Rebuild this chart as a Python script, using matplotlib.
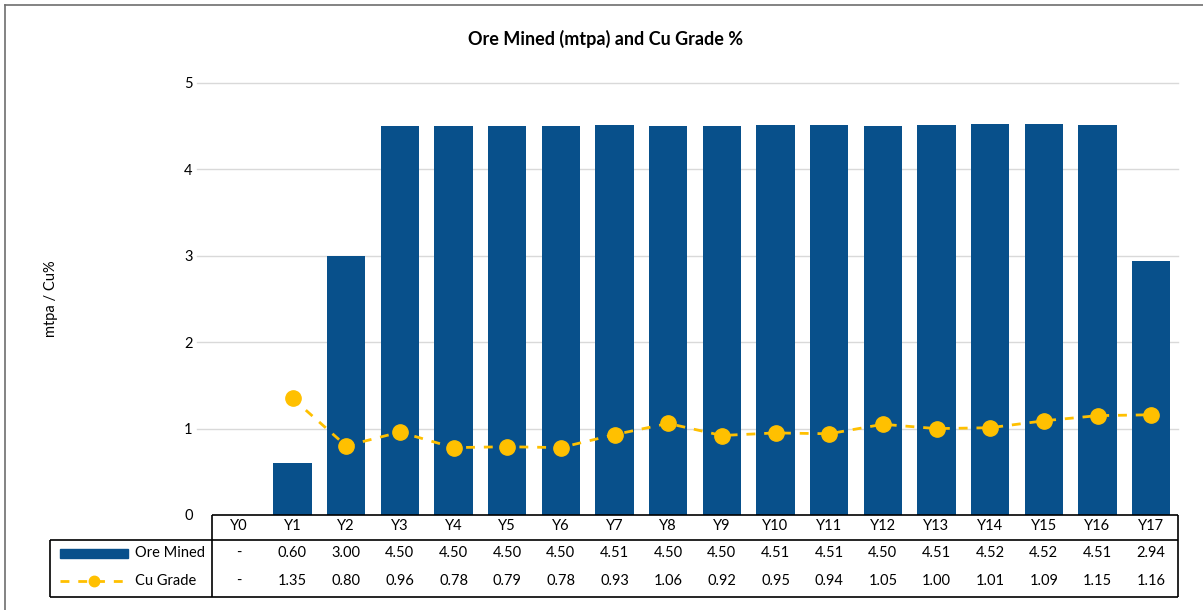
import matplotlib
matplotlib.use("Agg")
import matplotlib.pyplot as plt
import numpy as np
from matplotlib.lines import Line2D
from matplotlib.patches import Rectangle

# ---- data -----------------------------------------------------------------
years = ["Y0", "Y1", "Y2", "Y3", "Y4", "Y5", "Y6", "Y7", "Y8", "Y9",
         "Y10", "Y11", "Y12", "Y13", "Y14", "Y15", "Y16", "Y17"]
ore_mined = [np.nan, 0.60, 3.00, 4.50, 4.50, 4.50, 4.50, 4.51, 4.50, 4.50,
             4.51, 4.51, 4.50, 4.51, 4.52, 4.52, 4.51, 2.94]
cu_grade = [np.nan, 1.35, 0.80, 0.96, 0.78, 0.79, 0.78, 0.93, 1.06, 0.92,
            0.95, 0.94, 1.05, 1.00, 1.01, 1.09, 1.15, 1.16]
y_ticks = [0, 1, 2, 3, 4, 5]

series_names = ["Ore Mined", "Cu Grade"]
title = "Ore Mined (mtpa) and Cu Grade %"
y_label = "mtpa / Cu%"

# ---- style ----------------------------------------------------------------
BLUE = "#08508b"
GOLD = "#ffc000"
GRID = "#d9d9d9"
FRAME = "#6e6e6e"
FS = 10.5
plt.rcParams["font.family"] = ["Lato", "DejaVu Sans"]

W, H = 1203, 610
fig = plt.figure(figsize=(W / 100, H / 100), dpi=100)


def box(x0, y0, x1, y1):
    """Figure-fraction rectangle from pixel corners (top-left origin)."""
    return [x0 / W, 1 - y1 / H, (x1 - x0) / W, (y1 - y0) / H]


PL, PT, PR, PB = 212, 83, 1178, 515
ax = fig.add_axes(box(PL, PT, PR, PB))
x = np.arange(len(years))

ax.bar(x, ore_mined, width=0.71, color=BLUE, zorder=2)
ax.plot(x, cu_grade, color=GOLD, lw=2, dashes=(3.2, 3.2), marker="o",
        ms=11, zorder=3)

ax.set_xlim(-0.5, len(years) - 0.5)
ax.set_ylim(y_ticks[0], y_ticks[-1])
ax.set_yticks(y_ticks)
ax.set_xticks([])
for y in y_ticks[1:]:
    ax.axhline(y, xmin=-15 / (PR - PL), xmax=1, color=GRID, lw=1, zorder=1,
               clip_on=False)
for s in ax.spines.values():
    s.set_visible(False)
ax.tick_params(axis="y", length=0, pad=14, labelsize=FS)
ax.set_ylabel(y_label, fontsize=FS)
ax.yaxis.set_label_coords((58 - PL) / (PR - PL), 0.5)

fig.text(606 / W, 1 - 39 / H, title, ha="center", va="center",
         fontsize=13, fontweight="bold")

# ---- data table under the plot --------------------------------------------
ov = fig.add_axes([0, 0, 1, 1], zorder=5)
ov.set_xlim(0, W)
ov.set_ylim(H, 0)
ov.axis("off")

x0, x1 = ax.get_xlim()
col_x = [PL + (i - x0) / (x1 - x0) * (PR - PL) for i in x]

LEG_L = 50
ROW_TOP, ROW_MID, ROW_BOT = PB, 540, 597
lk = dict(color="black", lw=1.2, solid_capstyle="butt")
ov.add_line(Line2D([PL, PR], [ROW_TOP, ROW_TOP], **lk))
ov.add_line(Line2D([LEG_L, PR], [ROW_MID, ROW_MID], **lk))
ov.add_line(Line2D([LEG_L, PR], [ROW_BOT, ROW_BOT], **lk))
ov.add_line(Line2D([PL, PL], [ROW_TOP, ROW_BOT], **lk))
ov.add_line(Line2D([PR, PR], [ROW_TOP, ROW_BOT], **lk))
ov.add_line(Line2D([LEG_L, LEG_L], [ROW_MID, ROW_BOT], **lk))

y_head, y_ore, y_cu = 526, 553, 581


def fmt(v):
    return "-" if np.isnan(v) else f"{v:.2f}"


for cx, lab, o, c in zip(col_x, years, ore_mined, cu_grade):
    ov.text(cx, y_head, lab, ha="center", va="center", fontsize=FS)
    ov.text(cx, y_ore, fmt(o), ha="center", va="center", fontsize=FS)
    ov.text(cx, y_cu, fmt(c), ha="center", va="center", fontsize=FS)

# legend keys
ov.add_patch(Rectangle((60, y_ore - 4.5), 68, 9, color=BLUE))
ov.add_line(Line2D([60, 127], [y_cu, y_cu], color=GOLD, lw=2,
                   dashes=(3.2, 3.2)))
ov.add_line(Line2D([94], [y_cu], color=GOLD, marker="o", ms=7.5, lw=0))
ov.text(135, y_ore, series_names[0], ha="left", va="center", fontsize=FS)
ov.text(135, y_cu, series_names[1], ha="left", va="center", fontsize=FS)

# outer frame (top and left edges)
ov.add_line(Line2D([5, W], [5, 5], color=FRAME, lw=1.2))
ov.add_line(Line2D([5, 5], [5, H], color=FRAME, lw=1.2))

fig.savefig("out.png", dpi=100)
